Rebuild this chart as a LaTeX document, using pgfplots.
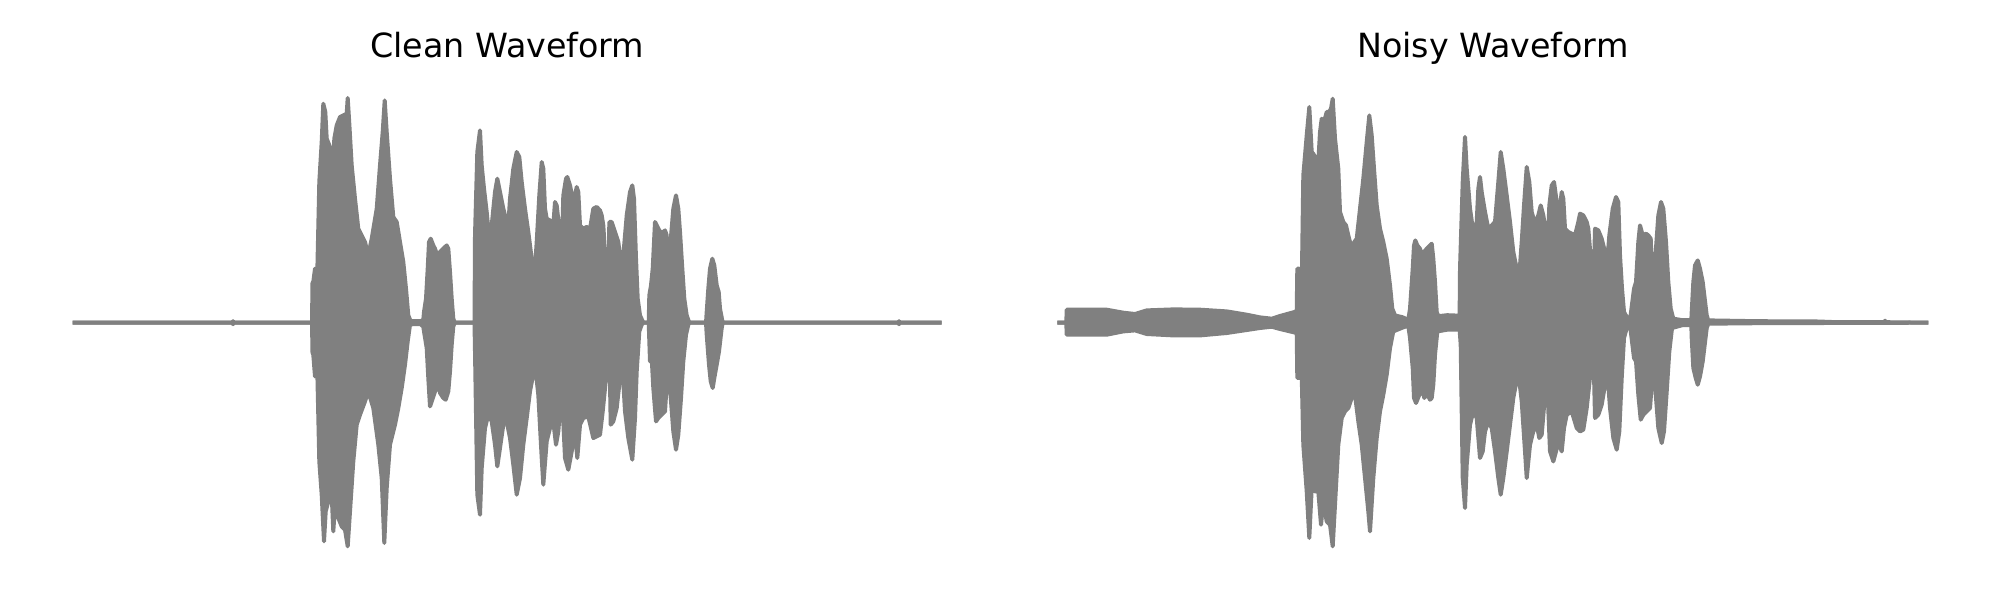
\documentclass[border=0pt]{standalone}
\usepackage{pgfplots}
\pgfplotsset{compat=1.18}
\usepackage{pgfplotstable}
\usepgfplotslibrary{fillbetween}
\usepackage{fontspec}
\setmainfont{DejaVu Sans}
\definecolor{wf}{HTML}{808080}

% Clean waveform: upper envelope (x = time index, y = amplitude)
\pgfplotstableread{
x y
2 0
159.5 0
160.3 1.5
161.1 0
239.3 0
239.8 40
240.6 40.7
242.3 54
244.6 50.7
246.6 140.7
249.0 180.7
250.6 219
252.6 210.7
254.0 184
257.3 175.7
259.6 169
260.6 157.3
261.6 184
264.0 197.3
267.3 205.7
270.6 207.3
274.0 209
275.0 224.7
276.3 204
279.0 157.3
282.3 124
285.6 94
289.0 87.3
292.3 80.7
295.6 67.3
299.0 84
304.0 114
307.3 157.3
310.0 190.7
312.0 222.3
314.0 190.7
317.3 144
320.6 105.7
324.0 100.7
327.3 80.7
330.6 60.7
333.3 34
335.6 7.3
338.0 1.3
340 1.5
348 1.5
350.6 3
351.3 10.7
353.3 24
355.0 54
356.3 80.7
358.0 84
360.6 77.3
362.3 74
364.0 69
365.6 67.3
367.3 70.7
370.6 74
374.0 77.3
375.6 74
377.3 50.7
379.0 24
380.6 4
382.0 0
401.8 0
402.3 87.3
404.6 170.7
407.3 192.3
409.0 157.3
411.3 134
414.0 110.7
415.6 94
419.0 97.3
422.3 130.7
424.6 144
427.3 130.7
430.6 114
434.0 100.7
435.6 97.3
437.3 124
440.6 154
444.0 170.7
446.6 165.7
449.0 140.7
452.3 114
455.6 90.7
459.0 64
461.6 44
464.0 80.7
466.6 127.3
469.0 160.7
470.6 154
472.3 114
474.0 104
477.3 102.3
480.6 97.3
482.3 120.7
484.0 117.3
486.6 94
489.0 67.3
490.6 127.3
493.3 144
494.6 145.7
497.3 137.3
500.6 120.7
502.3 127.3
504.0 135.7
505.6 130.7
507.3 97.3
510.6 94
514.0 95.7
517.3 94
520.6 114
524.0 115.7
527.3 112.3
529.0 107.3
530.6 97.3
533.3 54
535.6 20.7
536.6 100.7
539.0 100.7
542.3 90.7
545.6 80.7
548.0 60.7
550.6 67.3
554.0 107.3
557.3 130.7
559.6 137.3
561.3 124
563.3 64
565.0 24
567.3 7.3
570.6 0
576.0 0
576.6 27.3
578.3 37.3
580.0 54
582.3 100.7
584.0 97.3
587.3 90.7
590.6 90.7
592.3 92.3
594.0 87.3
595.0 37.3
597.3 74
600.6 114
603.3 127.3
605.6 114
607.3 90.7
609.6 54
611.6 24
614.0 7.3
616.6 0
633.3 0
634.0 10.7
635.6 34
637.3 54
639.6 64
641.6 57.3
644.0 37.3
646.0 30.7
647.3 14
650.0 0
825.5 0
826.3 1.5
827.1 0
867 0
}\cleantop

% Clean waveform: lower envelope
\pgfplotstableread{
x y
2 0
159.5 0
160.3 -1.5
161.1 0
239.3 0
239.8 -30
240.6 -32
242.3 -53.7
244.6 -48.7
246.6 -138.7
249.0 -172
251.3 -218.7
253.0 -188.7
255.6 -178.7
259.0 -172
260.6 -208.7
262.3 -182
265.6 -195.3
269.0 -203.7
272.3 -207
275.0 -223.7
277.3 -188.7
280.6 -138.7
284.0 -102
287.3 -92
292.3 -78.7
295.6 -68.7
300.6 -85.3
305.6 -122
309.0 -155.3
311.6 -220.3
314.0 -165.3
317.3 -122
322.3 -102
325.6 -85.3
329.0 -65.3
332.3 -42
335.0 -18.7
337.3 -2
340 -1.5
348 -1.5
350.6 -4
351.3 -8.7
354.0 -25.3
355.6 -55.3
357.3 -83.7
359.0 -78.7
362.3 -68.7
365.6 -62
367.3 -70.3
370.6 -75.3
373.0 -77
375.6 -68.7
377.3 -48.7
379.0 -22
380.6 -3.7
382.0 0
401.8 0
402.3 -28.7
404.6 -172
407.3 -192
409.0 -145.3
412.3 -105.3
415.6 -92
419.0 -98.7
422.3 -122
424.6 -143.7
427.3 -125.3
430.6 -102
434.0 -98.7
437.3 -115.3
440.6 -142
444.0 -172
447.3 -155.3
450.6 -122
454.0 -95.3
457.3 -68.7
462.3 -42
465.6 -72
469.0 -135.3
470.6 -162
474.0 -118.7
477.3 -105.3
480.6 -98.7
483.3 -122
485.6 -108.7
489.0 -65.3
492.3 -135.3
495.6 -147
499.0 -128.7
502.3 -108.7
504.6 -135.3
507.3 -102
510.6 -95.3
515.6 -93.7
520.6 -115.3
524.0 -113.7
527.3 -112
530.0 -88.7
534.0 -48.7
536.6 -18.7
538.0 -102
540.6 -98.7
544.0 -85.3
547.3 -55.3
550.0 -48.7
552.3 -88.7
555.6 -115.3
559.6 -137
562.3 -95.3
564.0 -48.7
566.6 -8.7
569.0 -2
570.6 0
576.0 0
577.3 -38.7
579.0 -35.3
580.6 -65.3
583.3 -98.7
585.6 -95.3
589.0 -92
592.3 -88.7
594.6 -52
597.3 -65.3
600.6 -108.7
603.3 -127
605.6 -112
608.3 -75.3
610.6 -38.7
613.3 -12
615.6 -2
616.6 0
633.3 0
634.0 -12
636.3 -42
638.0 -58.7
640.0 -65.3
641.6 -55.3
644.0 -42
646.3 -28.7
649.0 -5.3
650.0 0
825.5 0
826.3 -1.5
827.1 0
867 0
}\cleanbot

% Noisy waveform: upper envelope
\pgfplotstableread{
x y
2 0
9.0 0
9.4 13
49.4 13
66 10
77.7 8.7
89.4 12.3
116 13.3
142.7 13
169.4 11.3
189.4 8
202.7 5.3
214.4 4
222.7 6.7
239.4 11.3
240.0 54
242.0 54
244.4 34
246.0 147.3
249.4 187.3
252.0 215.7
254.4 170.7
256.0 169
257.7 165.7
261.0 160.7
262.7 190.7
264.4 204
266.7 200.7
269.4 210.7
271.7 210.7
273.7 214
275.4 224
277.7 184
281.0 154
282.7 110.7
286.0 100.7
288.7 97.3
291.0 87.3
294.4 74
297.0 80.7
299.4 84
302.7 114
306.0 144
309.4 180.7
312.0 207.3
314.4 187.3
316.7 154
319.4 117.3
322.7 94
326.0 80.7
329.4 64
332.7 37.3
335.0 14
337.7 7.3
345 5.5
351 3
352.7 14
355.4 54
356.7 77.3
358.0 82.3
360.0 77.3
362.7 74
365.0 67.3
366.7 70.7
369.4 74
372.7 77.3
374.4 79
376.0 64
377.7 40.7
379.4 10.7
381.0 6.5
390 7.5
402.3 7
402.7 54
405.4 140.7
407.7 185.7
409.4 154
412.7 114
416.0 90.7
419.4 100.7
421.0 134
422.7 145.7
424.4 130.7
427.7 110.7
431.0 94
434.4 97.3
437.7 100.7
441.0 140.7
443.4 170.7
446.0 154
449.4 127.3
452.7 100.7
456.0 70.7
459.4 54
462.0 47.3
464.4 80.7
466.7 117.3
469.4 155.7
472.0 140.7
474.4 110.7
477.7 99
481.0 107.3
483.4 117.3
486.0 107.3
488.7 90.7
490.0 64
492.0 117.3
494.4 137.3
496.7 140.7
499.4 120.7
502.0 110.7
504.4 130.7
506.0 124
507.7 94
511.0 90.7
514.4 89
517.7 87.3
521.0 100.7
522.7 109
526.0 107.3
529.4 100.7
531.0 94
533.7 60.7
536.0 27.3
537.7 94
541.0 92.3
544.4 84
547.7 70.7
549.4 54
552.0 87.3
555.4 114
558.7 125.7
561.0 120.7
562.7 67.3
564.7 34
566.7 10.7
569.4 5.7
573 5
576.7 34
578.7 40.7
581.0 80.7
582.7 97.3
585.4 87.3
588.7 89
591.0 87.3
593.4 84
595.4 34
597.7 60.7
601.0 107.3
603.7 120.7
606.0 114
608.7 80.7
611.0 40.7
613.4 14
616.0 4
625 2.5
634.0 2.5
634.4 10.7
636.0 40.7
637.7 57.3
640.4 62.3
642.7 54
645.4 40.7
647.0 27.3
649.4 7.3
651.0 2.3
700 1.5
760 1.2
780 0.5
826.9 0.5
827.7 2
828.5 0.5
869 0
}\noisytop

% Noisy waveform: lower envelope
\pgfplotstableread{
x y
2 0
9.0 0
9.4 -12
49.4 -12
66 -8.7
77.7 -7.7
89.4 -11.3
116 -12.7
142.7 -12.7
169.4 -10.3
189.4 -7.3
202.7 -5.3
214.4 -4
222.7 -6.3
239.4 -10.3
240.0 -55.3
242.0 -55.3
244.4 -52
246.0 -122
249.4 -168.7
252.0 -215.3
254.4 -165.3
257.7 -168.7
261.0 -168.7
263.7 -202
266.0 -178.7
269.4 -198.7
272.7 -202
275.4 -223.7
277.7 -182
281.0 -122
284.4 -95.3
287.7 -88.7
291.0 -85.3
294.4 -75.3
297.7 -72
301.0 -98.7
304.4 -122
307.7 -155.3
311.0 -188.7
312.7 -208.7
316.0 -155.3
319.4 -115.3
322.7 -88.7
326.0 -72
329.4 -52
332.7 -25.3
336.0 -8.7
345 -5
351 -3
352.7 -15.3
355.4 -45.3
356.7 -75.3
358.7 -80.3
362.0 -72
365.4 -68.7
367.0 -75.3
369.4 -70.3
372.7 -77
374.4 -75.3
376.0 -62
377.7 -32
380.0 -8.7
390 -7
402.3 -7
403.4 -22
405.4 -155.3
407.7 -185.3
409.4 -142
412.7 -102
416.0 -88.7
419.4 -95.3
422.7 -135.3
425.4 -128.7
427.7 -108.7
431.0 -98.7
434.4 -105.3
437.7 -128.7
441.0 -155.3
443.4 -172
446.0 -155.3
449.4 -128.7
452.7 -102
456.0 -75.3
461.0 -48.7
464.4 -78.7
467.7 -128.7
469.4 -155.3
472.7 -122
476.0 -108.7
479.4 -102
482.0 -115.3
484.4 -112
487.7 -72
490.0 -62
492.7 -128.7
496.0 -138.7
498.7 -128.7
501.0 -118.7
504.4 -128.7
506.7 -105.3
509.4 -92
514.4 -88.7
519.4 -105.3
522.7 -108.7
526.0 -107
529.4 -85.3
533.7 -45.3
536.0 -22
537.7 -95.3
541.0 -92
544.4 -82
547.7 -62
550.0 -48.7
552.7 -85.3
556.0 -115.3
559.4 -127
562.0 -108.7
564.4 -55.3
566.7 -15.3
569.4 -5.3
573 -5
576.7 -35.3
578.7 -38.7
581.0 -72
583.4 -97
586.0 -92
589.4 -88.7
592.7 -85.3
595.4 -48.7
597.7 -62
601.0 -105.3
604.4 -120.3
606.7 -108.7
609.4 -68.7
612.0 -28.7
614.7 -5.3
625 -2.5
634.0 -2.5
634.4 -15.3
636.0 -45.3
638.4 -55.3
640.4 -62
642.7 -53.7
645.4 -38.7
647.0 -25.3
649.4 -5.3
651.0 -1
700 -0.5
869 0
}\noisybot

\pgfplotsset{
  wave/.style={
    scale only axis,
    height=45.2mm,
    ymin=-226, ymax=226,
    xmin=0,
    axis lines=none,
    clip=false,
    every axis title/.style={at={(0.5,1)}, anchor=base, yshift=3.94mm,
      font=\fontsize{9.48}{11}\selectfont},
  },
  env/.style={draw=wf, line width=0.4mm, line join=round, line cap=rect, mark=none},
}

\begin{document}
\begin{tikzpicture}
\begin{axis}[wave, at={(7.27mm,5.13mm)}, anchor=south west,
  width=86.9mm, xmax=869, title={Clean Waveform}]
  \addplot[env, name path=ct] table[x=x,y=y] {\cleantop};
  \addplot[env, name path=cb] table[x=x,y=y] {\cleanbot};
  \addplot[wf, draw=none] fill between[of=ct and cb];
\end{axis}

\begin{axis}[wave, at={(105.73mm,5.13mm)}, anchor=south west,
  width=87.1mm, xmax=871, title={Noisy Waveform}]
  \addplot[env, name path=nt] table[x=x,y=y] {\noisytop};
  \addplot[env, name path=nb] table[x=x,y=y] {\noisybot};
  \addplot[wf, draw=none] fill between[of=nt and nb];
\end{axis}
\path[use as bounding box] (0,0) rectangle (200mm,60mm);
\end{tikzpicture}
\end{document}
